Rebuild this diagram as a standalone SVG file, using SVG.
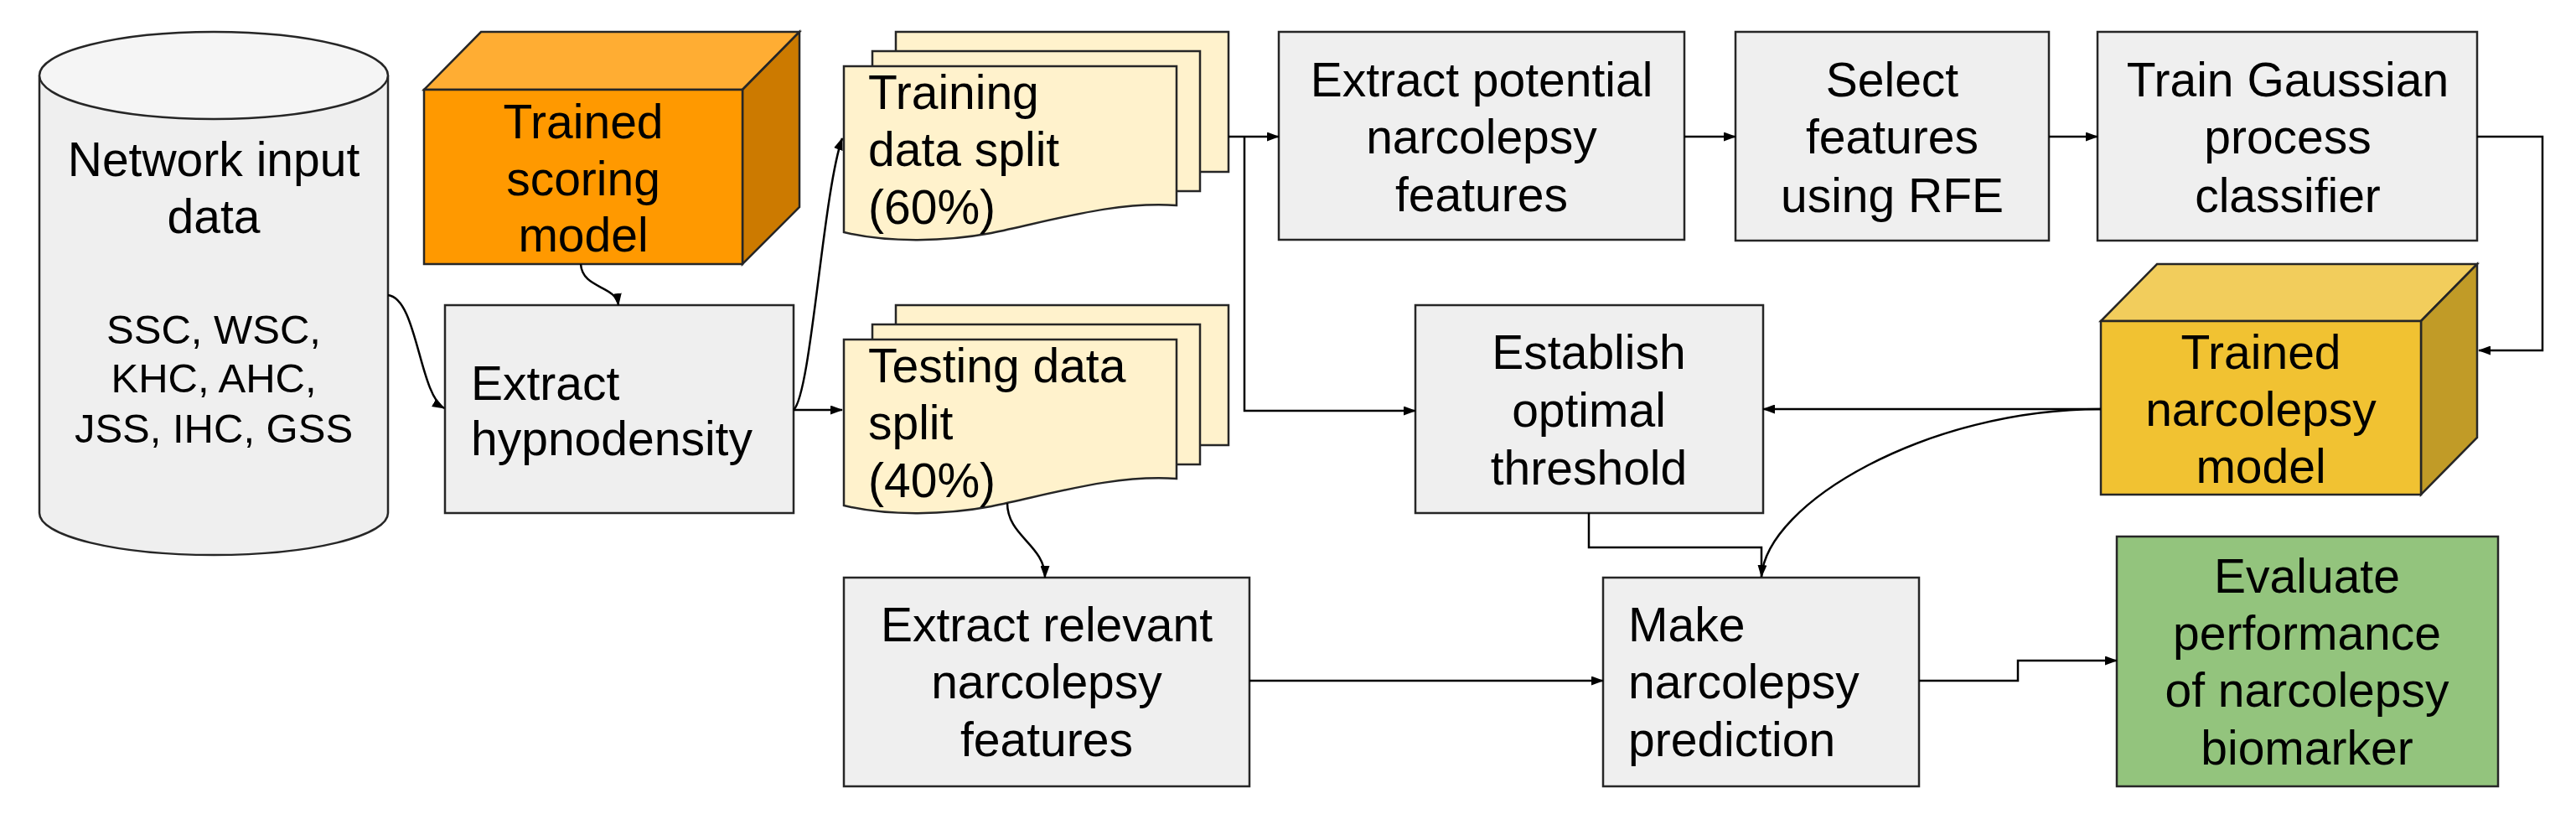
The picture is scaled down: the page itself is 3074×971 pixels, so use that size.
<svg xmlns="http://www.w3.org/2000/svg" width="3074" height="971" viewBox="0 0 3074 971">
<defs>
<marker id="arr" markerUnits="userSpaceOnUse" markerWidth="15" markerHeight="11" refX="14" refY="5.5" orient="auto">
<path d="M0,0 L15,5.5 L0,11 z" fill="#000"/>
</marker>
<style>
.box{fill:#efefef;stroke:#262626;stroke-width:2.5}
.doc{fill:#fff2cc;stroke:#262626;stroke-width:2.5}
.edge{fill:none;stroke:#000;stroke-width:2.5}
.t{font-family:"Liberation Sans",Arial,sans-serif;font-size:57px;fill:#000}
.s{font-family:"Liberation Sans",Arial,sans-serif;font-size:49px;fill:#000}
.c{text-anchor:middle}
</style>
</defs>
<rect width="3074" height="971" fill="#fff"/>

<g id="network-input-data">
<path d="M47,90 V612 A208,50 0 0 0 463,612 V90" fill="#efefef" stroke="#262626" stroke-width="2.5"/>
<ellipse cx="255" cy="90" rx="208" ry="52" fill="#f5f5f5" stroke="#262626" stroke-width="2.5"/>
<text class="t c" x="255" y="210">Network input</text>
<text class="t c" x="255" y="278">data</text>
<text class="s c" x="255" y="410">SSC, WSC,</text>
<text class="s c" x="255" y="468">KHC, AHC,</text>
<text class="s c" x="255" y="528">JSS, IHC, GSS</text>
</g>

<g id="trained-scoring-model">
<polygon points="506,107 574,38 954,38 886,107" fill="#ffad33" stroke="#262626" stroke-width="2.5"/>
<polygon points="886,107 954,38 954,247 886,315" fill="#cc7a00" stroke="#262626" stroke-width="2.5"/>
<rect x="506" y="107" width="380" height="208" fill="#ff9900" stroke="#262626" stroke-width="2.5"/>
<text class="t c" x="696" y="165">Trained</text>
<text class="t c" x="696" y="233">scoring</text>
<text class="t c" x="696" y="300">model</text>
</g>

<g id="extract-hypnodensity">
<rect class="box" x="531" y="364" width="416" height="248"/>
<text class="t" x="562" y="477">Extract</text>
<text class="t" x="562" y="543">hypnodensity</text>
</g>

<g id="training-data-split">
<rect class="doc" x="1069" y="38" width="397" height="167"/>
<rect class="doc" x="1041" y="61" width="391" height="167"/>
<path class="doc" d="M1007,79 H1404 V245 C1330,240 1260,262 1183,278 C1130,288 1060,290 1007,277 Z"/>
<text class="t" x="1036" y="130">Training</text>
<text class="t" x="1036" y="198">data split</text>
<text class="t" x="1036" y="267">(60%)</text>
</g>

<g id="testing-data-split">
<rect class="doc" x="1069" y="364" width="397" height="167"/>
<rect class="doc" x="1041" y="387" width="391" height="167"/>
<path class="doc" d="M1007,405 H1404 V571 C1330,566 1260,588 1183,604 C1130,614 1060,616 1007,603 Z"/>
<text class="t" x="1036" y="456">Testing data</text>
<text class="t" x="1036" y="524">split</text>
<text class="t" x="1036" y="593">(40%)</text>
</g>

<g id="extract-potential-features">
<rect class="box" x="1526" y="38" width="484" height="248"/>
<text class="t c" x="1768" y="115">Extract potential</text>
<text class="t c" x="1768" y="183">narcolepsy</text>
<text class="t c" x="1768" y="252">features</text>
</g>

<g id="select-features">
<rect class="box" x="2071" y="38" width="374" height="249"/>
<text class="t c" x="2258" y="115">Select</text>
<text class="t c" x="2258" y="183">features</text>
<text class="t c" x="2258" y="253">using RFE</text>
</g>

<g id="train-gaussian">
<rect class="box" x="2503" y="38" width="453" height="249"/>
<text class="t c" x="2730" y="115">Train Gaussian</text>
<text class="t c" x="2730" y="183">process</text>
<text class="t c" x="2730" y="253">classifier</text>
</g>

<g id="establish-threshold">
<rect class="box" x="1689" y="364" width="415" height="248"/>
<text class="t c" x="1896" y="440">Establish</text>
<text class="t c" x="1896" y="509">optimal</text>
<text class="t c" x="1896" y="578">threshold</text>
</g>

<g id="trained-narcolepsy-model">
<polygon points="2507,383 2574,315 2956,315 2889,383" fill="#f2cd5c" stroke="#262626" stroke-width="2.5"/>
<polygon points="2889,383 2956,315 2956,522 2889,590" fill="#c19b27" stroke="#262626" stroke-width="2.5"/>
<rect x="2507" y="383" width="382" height="207" fill="#f1c232" stroke="#262626" stroke-width="2.5"/>
<text class="t c" x="2698" y="440">Trained</text>
<text class="t c" x="2698" y="508">narcolepsy</text>
<text class="t c" x="2698" y="576">model</text>
</g>

<g id="extract-relevant-features">
<rect class="box" x="1007" y="689" width="484" height="249"/>
<text class="t c" x="1249" y="765">Extract relevant</text>
<text class="t c" x="1249" y="833">narcolepsy</text>
<text class="t c" x="1249" y="902">features</text>
</g>

<g id="make-prediction">
<rect class="box" x="1913" y="689" width="377" height="249"/>
<text class="t" x="1943" y="765">Make</text>
<text class="t" x="1943" y="833">narcolepsy</text>
<text class="t" x="1943" y="902">prediction</text>
</g>

<g id="evaluate-performance">
<rect x="2526" y="640" width="455" height="298" fill="#93c47d" stroke="#262626" stroke-width="2.5"/>
<text class="t c" x="2753" y="707">Evaluate</text>
<text class="t c" x="2753" y="775">performance</text>
<text class="t c" x="2753" y="843">of narcolepsy</text>
<text class="t c" x="2753" y="912">biomarker</text>
</g>

<g id="connectors">
<path class="edge" d="M463,352 C498,356 500,470 530,487" marker-end="url(#arr)"/>
<path class="edge" d="M693,315 C695,345 735,340 738,364" marker-end="url(#arr)"/>
<path class="edge" d="M947,489 C968,470 982,230 1005,165" marker-end="url(#arr)"/>
<path class="edge" d="M947,489 H1005" marker-end="url(#arr)"/>
<path class="edge" d="M1466,163 H1526" marker-end="url(#arr)"/>
<path class="edge" d="M1485,163 V490 H1689" marker-end="url(#arr)"/>
<path class="edge" d="M2010,163 H2071" marker-end="url(#arr)"/>
<path class="edge" d="M2445,163 H2503" marker-end="url(#arr)"/>
<path class="edge" d="M2956,163 H3034 V418 H2958" marker-end="url(#arr)"/>
<path class="edge" d="M2507,488 H2104" marker-end="url(#arr)"/>
<path class="edge" d="M2507,488 C2300,488 2108,600 2102,688" marker-end="url(#arr)"/>
<path class="edge" d="M1896,612 V653 H2102 V688"/>
<path class="edge" d="M1202,600 C1202,640 1247,650 1247,689" marker-end="url(#arr)"/>
<path class="edge" d="M1491,812 H1913" marker-end="url(#arr)"/>
<path class="edge" d="M2290,812 H2408 V788 H2526" marker-end="url(#arr)"/>
</g>
</svg>
